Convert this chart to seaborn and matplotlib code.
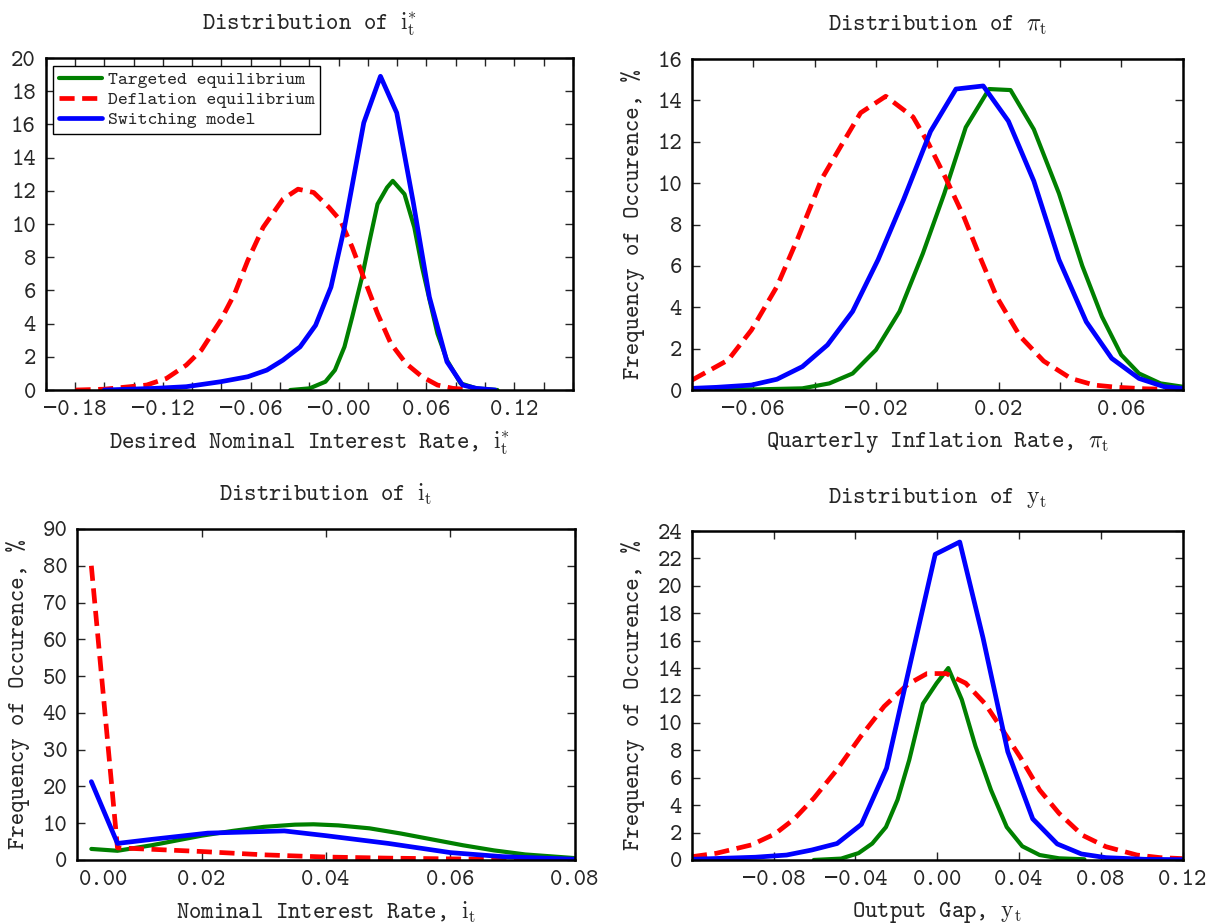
import numpy as np
import matplotlib
matplotlib.use('Agg')
import matplotlib.pyplot as plt
import seaborn as sns

# Panel 1: desired nominal interest rate i*_t
istar_targ_x = [-0.033, -0.0198, -0.009, -0.0025, 0.004, 0.0093, 0.016, 0.0212, 0.0266, 0.0331, 0.037,
                0.045, 0.0517, 0.057, 0.0622, 0.0675, 0.074, 0.0833, 0.094, 0.1085]
istar_targ_y = [0, 0.1, 0.5, 1.2, 2.6, 4.4, 6.8, 9.0, 11.2, 12.2, 12.6,
                11.8, 9.8, 7.4, 5.4, 3.4, 1.8, 0.4, 0.1, 0]
istar_defl_x = [-0.1796, -0.16, -0.131, -0.1175, -0.104, -0.0937, -0.0805, -0.071, -0.062, -0.0515, -0.038,
                -0.0277, -0.017, -0.0065, 0.0014, 0.0093, 0.017, 0.0266, 0.0357, 0.046, 0.057, 0.0675, 0.078, 0.094]
istar_defl_y = [0, 0.05, 0.3, 0.7, 1.5, 2.4, 4.2, 5.8, 7.8, 9.8, 11.5,
                12.1, 11.9, 11.0, 10.2, 8.6, 6.8, 4.6, 2.8, 1.6, 0.8, 0.3, 0.1, 0]
istar_switch_x = [-0.16, -0.1255, -0.104, -0.0805, -0.062, -0.049, -0.038, -0.0263, -0.0157, -0.0052,
                  0.004, 0.0172, 0.0286, 0.0397, 0.051, 0.062, 0.074, 0.0846, 0.094, 0.107]
istar_switch_y = [0, 0.1, 0.2, 0.5, 0.8, 1.2, 1.8, 2.6, 3.9, 6.2,
                  9.8, 16.1, 18.9, 16.7, 11.3, 5.6, 1.7, 0.3, 0.1, 0]

# Panel 2: quarterly inflation pi_t
pi_targ_x = [-0.072, -0.0593, -0.044, -0.0352, -0.0276, -0.02, -0.0123, -0.0047, 0.0023, 0.0093,
             0.0169, 0.0239, 0.0315, 0.0397, 0.0473, 0.0537, 0.06, 0.0658, 0.0728, 0.08]
pi_targ_y = [0.03, 0.03, 0.08, 0.32, 0.8, 1.94, 3.8, 6.6, 9.5, 12.7,
             14.55, 14.5, 12.6, 9.5, 6.0, 3.55, 1.7, 0.8, 0.32, 0.16]
pi_defl_x = [-0.08, -0.0682, -0.0606, -0.0523, -0.0453, -0.0377, -0.0314, -0.025, -0.0168, -0.0079, -0.0028,
             0.0029, 0.0086, 0.0143, 0.0194, 0.027, 0.0347, 0.0436, 0.0512, 0.0588, 0.0677, 0.08]
pi_defl_y = [0.48, 1.45, 2.9, 5.0, 7.4, 10.2, 11.8, 13.4, 14.2, 13.2, 11.9,
             10.2, 8.4, 6.3, 4.5, 2.6, 1.4, 0.56, 0.24, 0.13, 0.06, 0.02]
pi_switch_x = [-0.08, -0.072, -0.0606, -0.0523, -0.044, -0.0358, -0.0276, -0.0193, -0.011, -0.0022,
               0.0061, 0.015, 0.0232, 0.0315, 0.0397, 0.0486, 0.0569, 0.0658, 0.074, 0.08]
pi_switch_y = [0.08, 0.13, 0.24, 0.52, 1.13, 2.18, 3.8, 6.3, 9.2, 12.5,
               14.55, 14.7, 13.0, 10.1, 6.3, 3.3, 1.53, 0.56, 0.16, 0.08]

# Panel 3: nominal interest rate i_t
i_targ_x = [0.0023, 0.0065, 0.012, 0.02, 0.025, 0.03, 0.035, 0.038, 0.042, 0.047, 0.052, 0.057,
            0.062, 0.067, 0.072, 0.08]
i_targ_y = [3.0, 2.5, 4.0, 6.6, 7.9, 9.0, 9.6, 9.7, 9.4, 8.6, 7.2, 5.6, 4.0, 2.6, 1.5, 0.5]
i_defl_x = [0.0023, 0.0065, 0.012, 0.02, 0.03, 0.04, 0.05, 0.06, 0.07, 0.08]
i_defl_y = [80, 3.3, 2.9, 2.3, 1.4, 0.8, 0.5, 0.3, 0.15, 0.05]
i_switch_x = [0.0023, 0.0065, 0.012, 0.021, 0.0333, 0.04, 0.05, 0.06, 0.0684, 0.075, 0.08]
i_switch_y = [21.3, 4.5, 5.6, 7.3, 7.9, 6.6, 4.5, 2.0, 0.9, 0.5, 0.2]

# Panel 4: output gap y_t
y_targ_x = [-0.0604, -0.047, -0.0385, -0.0318, -0.0251, -0.0194, -0.0137, -0.007, -0.0003, 0.0054,
            0.012, 0.0187, 0.0263, 0.034, 0.0416, 0.0501, 0.0596, 0.072]
y_targ_y = [0, 0.1, 0.5, 1.2, 2.4, 4.4, 7.3, 11.4, 12.9, 14.0,
            11.7, 8.3, 5.1, 2.4, 1.0, 0.36, 0.12, 0.05]
y_defl_x = [-0.12, -0.108, -0.0909, -0.0794, -0.0699, -0.0604, -0.049, -0.0375, -0.026, -0.0146, -0.005,
            0.0044, 0.0139, 0.0234, 0.031, 0.0406, 0.0501, 0.0596, 0.0711, 0.0825, 0.0977, 0.1091, 0.12]
y_defl_y = [0.24, 0.49, 1.1, 1.9, 3.0, 4.5, 6.6, 9.0, 11.2, 12.8, 13.6,
            13.6, 12.9, 11.4, 9.7, 7.5, 5.1, 3.4, 1.8, 0.97, 0.36, 0.17, 0.1]
y_switch_x = [-0.12, -0.089, -0.0737, -0.0613, -0.049, -0.0371, -0.0248, -0.0128, -0.001,
              0.011, 0.0224, 0.0345, 0.0467, 0.0587, 0.0705, 0.0825, 0.1015, 0.12]
y_switch_y = [0.05, 0.2, 0.36, 0.73, 1.2, 2.6, 6.7, 14.6, 22.3,
              23.2, 16.2, 7.9, 3.0, 1.17, 0.44, 0.17, 0.05, 0.02]

series_names = ['Targeted equilibrium', 'Deflation equilibrium', 'Switching model']

# tick labels
M = '\u2212'
istar_ticks = [-0.2, -0.18, -0.16, -0.14, -0.12, -0.10, -0.08, -0.06, -0.04, -0.02, 0.0,
               0.02, 0.04, 0.06, 0.08, 0.10, 0.12, 0.14, 0.16]
istar_labels = ['', M + '0.18', '', '', M + '0.12', '', '', M + '0.06', '', '', M + '0.00',
                '', '', '0.06', '', '', '0.12', '', '']
pi_ticks = [-0.08, -0.06, -0.04, -0.02, 0.0, 0.02, 0.04, 0.06, 0.08]
pi_labels = ['', M + '0.06', '', M + '0.02', '', '0.02', '', '0.06', '']
i_ticks = [0.0042, 0.02, 0.04, 0.06, 0.08]
i_labels = ['0.00', '0.02', '0.04', '0.06', '0.08']
y_ticks = [-0.12, -0.08, -0.04, 0.0, 0.04, 0.08, 0.12]
y_labels = ['', M + '0.08', M + '0.04', '0.00', '0.04', '0.08', '0.12']

sns.set_style('ticks')
plt.rcParams['font.family'] = ['cmtt10', 'DejaVu Sans Mono']
plt.rcParams['mathtext.fontset'] = 'cm'
plt.rcParams['axes.unicode_minus'] = True

colors = ['#008000', '#ff0000', '#0000ff']
dash = (0, (3.2, 1.6))
FS = 17

fig = plt.figure(figsize=(12.11, 9.24), dpi=100)
ax1 = fig.add_axes([0.0377, 0.5779, 0.4354, 0.3593])
ax2 = fig.add_axes([0.5714, 0.5779, 0.4051, 0.3582])
ax3 = fig.add_axes([0.0636, 0.0693, 0.4112, 0.3582])
ax4 = fig.add_axes([0.5714, 0.0693, 0.4051, 0.3560])

panels = [
    (ax1, [(istar_targ_x, istar_targ_y), (istar_defl_x, istar_defl_y), (istar_switch_x, istar_switch_y)],
     (-0.2, 0.16), (0, 20), np.arange(0, 21, 2), istar_ticks, istar_labels,
     r'Distribution of $\mathrm{i}_\mathrm{t}^{*}$', r'Desired Nominal Interest Rate, $\mathrm{i}_\mathrm{t}^{*}$', False),
    (ax2, [(pi_targ_x, pi_targ_y), (pi_defl_x, pi_defl_y), (pi_switch_x, pi_switch_y)],
     (-0.08, 0.08), (0, 16), np.arange(0, 17, 2), pi_ticks, pi_labels,
     r'Distribution of $\pi_\mathrm{t}$', r'Quarterly Inflation Rate, $\pi_\mathrm{t}$', True),
    (ax3, [(i_targ_x, i_targ_y), (i_defl_x, i_defl_y), (i_switch_x, i_switch_y)],
     (0.0, 0.08), (0, 90), np.arange(0, 91, 10), i_ticks, i_labels,
     r'Distribution of $\mathrm{i}_\mathrm{t}$', r'Nominal Interest Rate, $\mathrm{i}_\mathrm{t}$', True),
    (ax4, [(y_targ_x, y_targ_y), (y_defl_x, y_defl_y), (y_switch_x, y_switch_y)],
     (-0.12, 0.12), (0, 24), np.arange(0, 25, 2), y_ticks, y_labels,
     r'Distribution of $\mathrm{y}_\mathrm{t}$', r'Output Gap, $\mathrm{y}_\mathrm{t}$', True),
]

for ax, series, xlim, ylim, yt, xt, xl, title, xlabel, show_ylabel in panels:
    for k, (xs, ys) in enumerate(series):
        style = dash if k == 1 else '-'
        lw = 3.0 if k == 0 else 3.4
        sns.lineplot(x=xs, y=ys, ax=ax, color=colors[k], linewidth=lw, linestyle=style,
                     label=series_names[k], sort=False)
    ax.set_xlim(*xlim)
    ax.set_ylim(*ylim)
    ax.set_yticks(yt)
    ax.set_yticklabels([str(v) for v in yt])
    ax.set_xticks(xt)
    ax.set_xticklabels(xl)
    ax.tick_params(direction='in', top=True, right=True, length=6, width=1.0,
                   labelsize=FS, pad=7)
    for sp in ax.spines.values():
        sp.set_linewidth(1.8)
        sp.set_color('black')
    ax.set_title(title, fontsize=17, pad=20)
    ax.set_xlabel(xlabel, fontsize=17, labelpad=7)
    if show_ylabel:
        ax.set_ylabel('Frequency of Occurence, %', fontsize=17, labelpad=9)
    else:
        ax.set_ylabel('')
    leg = ax.get_legend()
    if leg is not None:
        leg.remove()

# the "0.00" label in the i_t panel sits without a tick mark
ax3.xaxis.get_major_ticks()[0].tick1line.set_visible(False)
ax3.xaxis.get_major_ticks()[0].tick2line.set_visible(False)

leg = ax1.legend(loc='upper left', fontsize=13.5, frameon=True, fancybox=False, framealpha=1,
                 edgecolor='black', handlelength=2.3, handletextpad=0.3, labelspacing=0.15,
                 borderpad=0.3, borderaxespad=0.4)
leg.get_frame().set_linewidth(1.0)

fig.savefig('out.png', dpi=100)
